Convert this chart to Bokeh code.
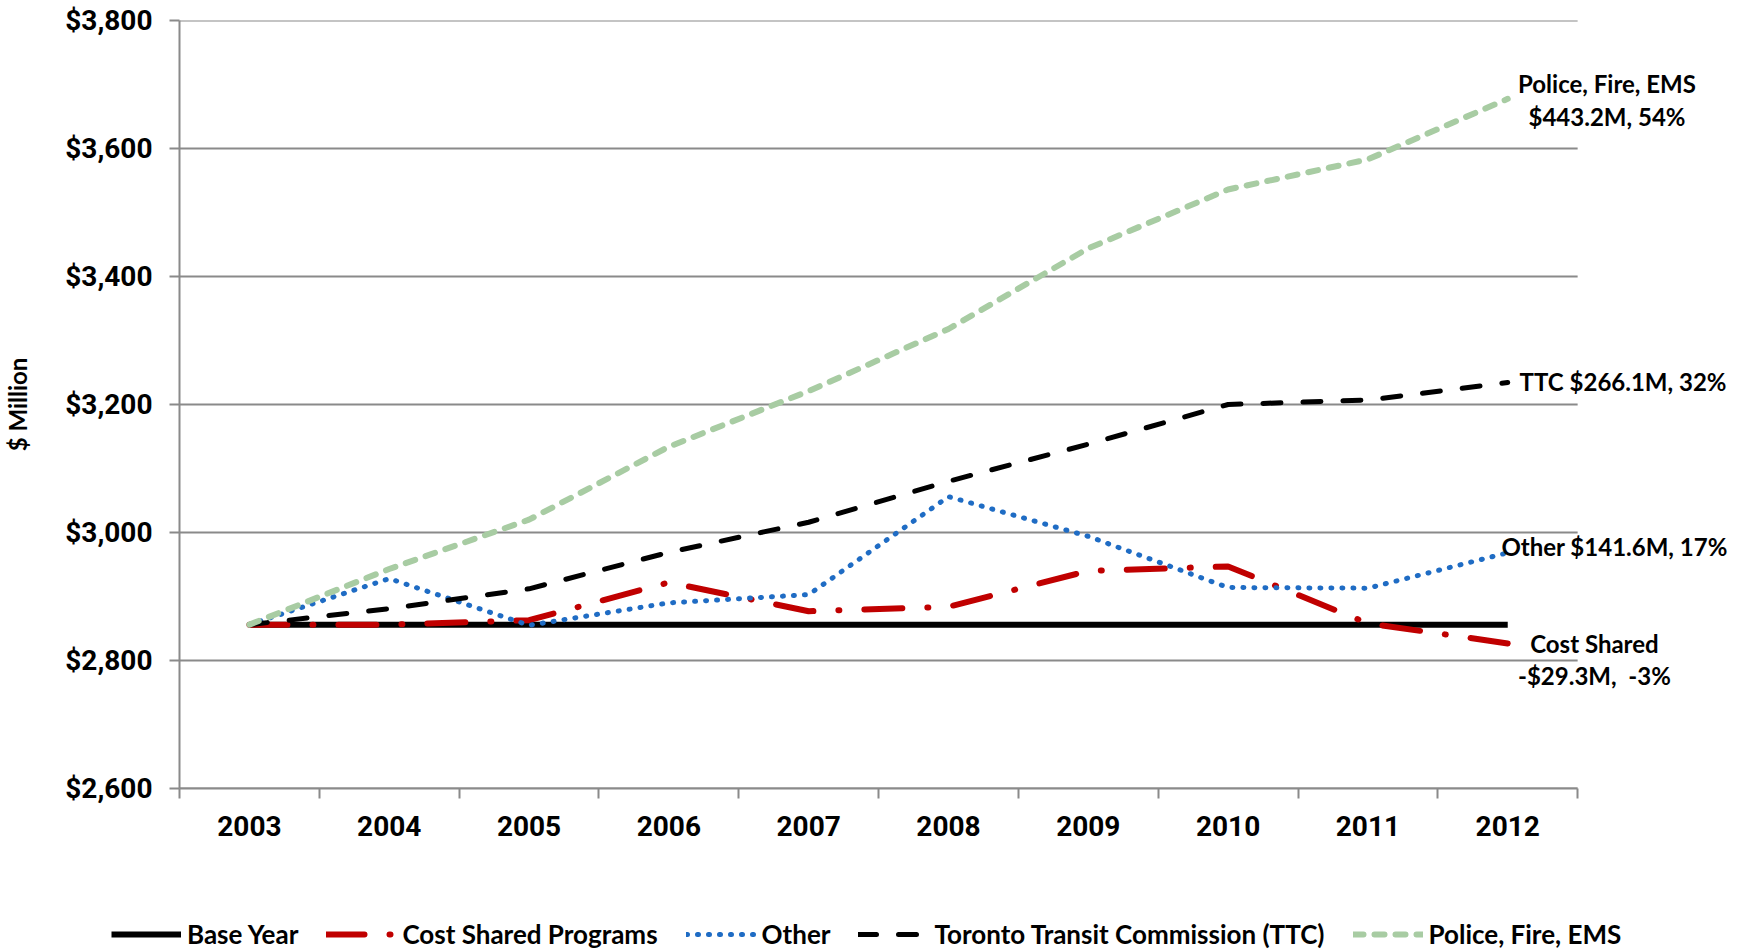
from bokeh.plotting import figure
from bokeh.models import Range1d, FixedTicker, NumeralTickFormatter, Legend, LegendItem, Label
from bokeh.embed import file_html
from bokeh.resources import INLINE

# Operating budget by program group, $ million
years = [2003, 2004, 2005, 2006, 2007, 2008, 2009, 2010, 2011, 2012]
base_year = [2856.0, 2856.0, 2856.0, 2856.0, 2856.0, 2856.0, 2856.0, 2856.0, 2856.0, 2856.0]
cost_shared = [2856.0, 2856.0, 2863.0, 2922.0, 2877.0, 2884.0, 2940.0, 2947.0, 2858.0, 2826.7]
other = [2856.0, 2928.0, 2855.0, 2890.0, 2903.0, 3056.0, 2994.0, 2914.0, 2913.0, 2968.3]
ttc = [2856.0, 2881.0, 2912.0, 2969.0, 3016.0, 3080.0, 3138.0, 3200.0, 3207.0, 3234.4]
police_fire_ems = [2856.0, 2943.0, 3020.0, 3134.0, 3221.0, 3318.0, 3444.0, 3536.0, 3583.0, 3677.6]

y_ticks = [2600, 2800, 3000, 3200, 3400, 3600, 3800]

series = [
    ("Base Year", base_year),
    ("Cost Shared Programs", cost_shared),
    ("Other", other),
    ("Toronto Transit Commission (TTC)", ttc),
    ("Police, Fire, EMS", police_fire_ems),
]

# 2003-2012 change by group and its share of the total change
change_police, share_police = "$443.2M", "54%"
change_ttc, share_ttc = "$266.1M", "32%"
change_other, share_other = "$141.6M", "17%"
change_cost, share_cost = "-$29.3M", "-3%"

GRID = "#8a8a8a"
TICK_FONT = "Roboto"
TEXT_FONT = "Lato"

styles = [
    dict(line_color="black", line_width=6),
    dict(line_color="#c00000", line_width=6, line_dash="38 25 1 25", line_cap="round"),
    dict(line_color="#1f6cc4", line_width=5, line_dash="1 10", line_cap="round"),
    dict(line_color="black", line_width=5, line_dash="18 22", line_cap="round"),
    dict(line_color="#a8cca3", line_width=6, line_dash="10 11", line_cap="round"),
]

x_lo, x_hi = years[0] - 0.5, years[-1] + 0.5
# the frame runs on past the last year so the end labels have room
x_end = x_hi + 1.172

p = figure(
    width=1741, height=870,
    x_range=Range1d(x_lo, x_end),
    y_range=Range1d(y_ticks[0], y_ticks[-1]),
    output_backend="svg", toolbar_location=None,
    min_border_left=178, min_border_right=0,
    min_border_top=20, min_border_bottom=82,
)
p.outline_line_color = None
p.background_fill_color = "white"
p.border_fill_color = "white"
p.xgrid.visible = False
p.ygrid.visible = False

# horizontal gridlines across the year span only
p.segment(x0=[x_lo] * len(y_ticks), y0=y_ticks, x1=[x_hi] * len(y_ticks), y1=y_ticks,
          line_color=GRID, line_width=2, level="underlay")

# x axis: year labels at category centres, tick marks at boundaries
xa = p.xaxis[0]
xa.bounds = (x_lo, x_hi)
xa.ticker = FixedTicker(ticks=years,
                        minor_ticks=[y - 0.5 for y in years] + [x_hi])
xa.major_label_overrides = {y: str(y) for y in years}
xa.axis_line_color = GRID
xa.axis_line_width = 2
xa.major_tick_out = 0
xa.major_tick_in = 0
xa.minor_tick_out = 10
xa.minor_tick_in = 0
xa.minor_tick_line_color = GRID
xa.minor_tick_line_width = 2
xa.major_label_standoff = 17
xa.major_label_text_font = TICK_FONT
xa.major_label_text_font_style = "bold"
xa.major_label_text_font_size = "28px"
xa.major_label_text_color = "black"

ya = p.yaxis[0]
ya.ticker = FixedTicker(ticks=y_ticks)
ya.formatter = NumeralTickFormatter(format="$0,0")
ya.axis_line_color = GRID
ya.axis_line_width = 2
ya.major_tick_out = 10
ya.major_tick_in = 0
ya.major_tick_line_color = GRID
ya.major_tick_line_width = 2
ya.minor_tick_out = 0
ya.minor_tick_in = 0
ya.major_label_standoff = 17
ya.major_label_text_font = TICK_FONT
ya.major_label_text_font_style = "bold"
ya.major_label_text_font_size = "28px"
ya.major_label_text_color = "black"
ya.axis_label = "$ Million"
ya.axis_label_text_font = TEXT_FONT
ya.axis_label_text_font_style = "bold"
ya.axis_label_text_font_size = "24px"
ya.axis_label_text_color = "black"
ya.axis_label_standoff = 30

for (name, vals), style in zip(series, styles):
    p.line(years, vals, **style)


def end_label(x, y, text, align="left"):
    p.add_layout(Label(
        x=x, y=y, text=text, text_align=align, text_baseline="middle",
        text_font=TEXT_FONT, text_font_style="bold", text_font_size="24px",
        text_color="black",
    ))


end_label(2012.71, 3702, "Police, Fire, EMS", "center")
end_label(2012.71, 3650, f"{change_police}, {share_police}", "center")
end_label(2012.085, ttc[-1] + 2, f"TTC {change_ttc}, {share_ttc}")
end_label(2011.955, other[-1] + 10, f"Other {change_other}, {share_other}")
end_label(2012.62, 2826, "Cost Shared", "center")
end_label(2012.62, 2776, f"{change_cost},\u00a0 {share_cost}", "center")

# legend strip beneath the chart; its series sit outside its view, only the key shows
leg = figure(
    width=1741, height=80, x_range=Range1d(0, 1), y_range=Range1d(0, 1),
    x_axis_type=None, y_axis_type=None,
    output_backend="svg", toolbar_location=None,
    min_border_left=0, min_border_right=0, min_border_top=0, min_border_bottom=0,
)
leg.outline_line_color = None
leg.xgrid.visible = False
leg.ygrid.visible = False

items = []
for (name, vals), style in zip(series, styles):
    r = leg.line(years, vals, **style)
    items.append(LegendItem(label=name, renderers=[r]))

legend = Legend(
    items=items,
    orientation="horizontal",
    location=(111, 0),
    label_text_font=TEXT_FONT,
    label_text_font_style="bold",
    label_text_font_size="26px",
    label_text_color="black",
    glyph_width=70,
    glyph_height=20,
    label_standoff=6,
    spacing=28,
    padding=0,
    margin=0,
    border_line_alpha=0,
    background_fill_alpha=0,
)
leg.add_layout(legend)

# chart and legend strip as two stacked roots
open("out.html", "w").write(file_html([p, leg], INLINE))
